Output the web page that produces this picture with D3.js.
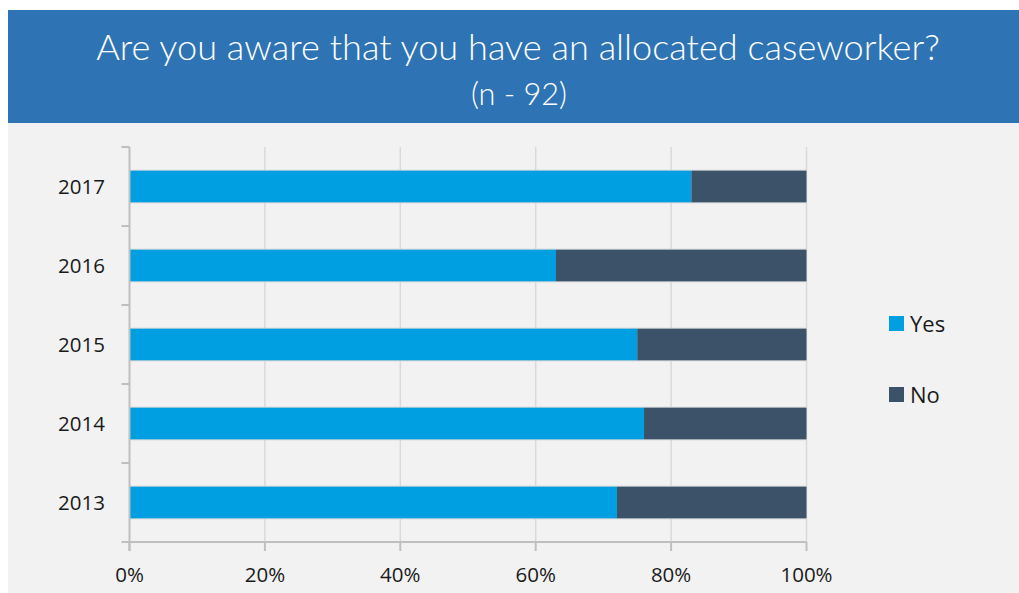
<!DOCTYPE html>
<html>
<head>
<meta charset="utf-8">
<script src="https://cdn.jsdelivr.net/npm/d3@7"></script>
<style>
  html, body { margin: 0; padding: 0; background: #ffffff; }
  svg { display: block; }
</style>
</head>
<body>
<svg id="chart" width="1019" height="593"></svg>
<script>
// Survey responses by year (share of respondents, %)
const years = ["2017", "2016", "2015", "2014", "2013"];
const yesValues = [83, 63, 75, 76, 72];
const noValues = [17, 37, 25, 24, 28];
const seriesNames = ["Yes", "No"];
const seriesColors = ["#009FE2", "#3C5269"];
const xTicks = [0, 20, 40, 60, 80, 100];
const titleText = "Are you aware that you have an allocated caseworker?";
const subtitleText = "(n - 92)";

(function () {
  const W = 1019, H = 593;
  const svg = d3.select("#chart");
  const font = "'Open Sans', 'Segoe UI', sans-serif";
  const titleFont = "Lato, 'Open Sans', sans-serif";

  // header band and chart panel
  svg.append("rect").attr("x", 8).attr("y", 10).attr("width", W - 8).attr("height", 113).attr("fill", "#2E74B5");
  svg.append("rect").attr("x", 8).attr("y", 123).attr("width", W - 8).attr("height", H - 123).attr("fill", "#F2F2F2");

  // title lines, sized to the header width
  function fitText(sel, target) {
    const len = sel.node().getComputedTextLength();
    const fs = parseFloat(sel.attr("font-size"));
    sel.attr("font-size", fs * target / len);
  }
  const title = svg.append("text")
    .attr("x", 518).attr("y", 60)
    .attr("text-anchor", "middle")
    .attr("font-family", titleFont).attr("font-weight", 300)
    .attr("font-size", 34).attr("fill", "#ffffff")
    .text(titleText);
  fitText(title, 844);

  const sub = svg.append("text")
    .attr("x", 519).attr("y", 105)
    .attr("text-anchor", "middle")
    .attr("font-family", titleFont).attr("font-weight", 300)
    .attr("font-size", 28).attr("fill", "#ffffff")
    .text(subtitleText);
  fitText(sub, 96);

  // plot geometry
  const pLeft = 129.5, pRight = 806.5, pTop = 147, pBottom = 542;
  const x = d3.scaleLinear().domain([0, 100]).range([pLeft, pRight]);
  const y = d3.scaleBand().domain(years).range([pTop, pBottom]).paddingInner(0.6).paddingOuter(0.3);

  // vertical gridlines
  svg.append("g").selectAll("line").data(xTicks.slice(1)).join("line")
    .attr("x1", d => x(d)).attr("x2", d => x(d))
    .attr("y1", pTop).attr("y2", pBottom)
    .attr("stroke", "#D9D9D9").attr("stroke-width", 1.5);

  // stacked bars
  const stackData = years.map((yr, i) => ({ year: yr, Yes: yesValues[i], No: noValues[i] }));
  const stacked = d3.stack().keys(seriesNames)(stackData);

  // faint edge around each bar
  svg.append("g").selectAll("rect").data(stackData).join("rect")
    .attr("x", x(0)).attr("width", d => x(d.Yes + d.No) - x(0))
    .attr("y", d => y(d.year) - 1).attr("height", y.bandwidth() + 2)
    .attr("fill", "#D0D3D6");

  svg.append("g").selectAll("g").data(stacked).join("g")
    .attr("fill", (d, i) => seriesColors[i])
    .selectAll("rect").data(d => d).join("rect")
    .attr("x", d => x(d[0]))
    .attr("width", d => x(d[1]) - x(d[0]))
    .attr("y", d => y(d.data.year))
    .attr("height", y.bandwidth());

  // y axis with category separators
  const yAxisG = svg.append("g");
  yAxisG.append("line").attr("x1", pLeft).attr("x2", pLeft).attr("y1", pTop).attr("y2", pBottom + 9)
    .attr("stroke", "#BFBFBF").attr("stroke-width", 2);
  const bounds = d3.range(years.length).map(i => pTop + i * y.step());
  yAxisG.selectAll("line.tick").data(bounds).join("line")
    .attr("class", "tick")
    .attr("x1", pLeft - 8).attr("x2", pLeft).attr("y1", d => d).attr("y2", d => d)
    .attr("stroke", "#BFBFBF").attr("stroke-width", 2);
  yAxisG.selectAll("text").data(years).join("text")
    .attr("x", 105).attr("y", d => y(d) + y.bandwidth() / 2)
    .attr("dy", "0.35em")
    .attr("text-anchor", "end")
    .attr("font-family", font).attr("font-size", 20.5).attr("fill", "#1a1a1a")
    .text(d => d);

  // x axis
  const xAxisG = svg.append("g");
  xAxisG.append("line").attr("x1", pLeft - 8).attr("x2", pRight).attr("y1", pBottom).attr("y2", pBottom)
    .attr("stroke", "#BFBFBF").attr("stroke-width", 2);
  xAxisG.selectAll("line.tick").data(xTicks).join("line")
    .attr("class", "tick")
    .attr("x1", d => x(d)).attr("x2", d => x(d)).attr("y1", pBottom).attr("y2", pBottom + 9)
    .attr("stroke", "#BFBFBF").attr("stroke-width", 2);
  xAxisG.selectAll("text").data(xTicks).join("text")
    .attr("x", d => x(d)).attr("y", 582)
    .attr("text-anchor", "middle")
    .attr("font-family", font).attr("font-size", 20.5).attr("fill", "#1a1a1a")
    .text(d => d + "%");

  // legend
  const legendY = [316, 387];
  const lg = svg.append("g").selectAll("g").data(seriesNames).join("g")
    .attr("transform", (d, i) => `translate(889, ${legendY[i]})`);
  lg.append("rect").attr("width", 15).attr("height", 15).attr("fill", (d, i) => seriesColors[i]);
  lg.append("text").attr("x", 21).attr("y", 16)
    .attr("font-family", font).attr("font-size", 22).attr("fill", "#1a1a1a")
    .text(d => d);
})();
</script>
</body>
</html>
